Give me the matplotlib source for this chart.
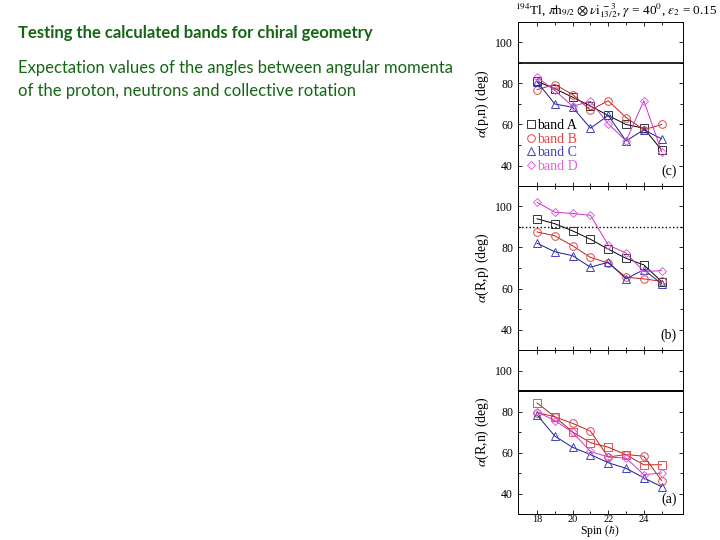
import matplotlib
matplotlib.use('Agg')
import matplotlib.pyplot as plt
from matplotlib.lines import Line2D
from matplotlib.ticker import MultipleLocator, FixedLocator

# Dữ liệu
spin = [18, 19, 20, 21, 22, 23, 24, 25]
spin_ticks = [18, 20, 22, 24]
band_names = ['band A', 'band B', 'band C', 'band D']

# (c) alpha(p,n)
c_A = [81, 77.5, 73.3, 69, 64.4, 60, 58.2, 47.5]
c_B = [77, 79.5, 74.6, 67, 71.6, 63.4, 57.4, 60]
c_C = [80.8, 70, 68.4, 58.2, 64.4, 52, 57.4, 53]
c_D = [83, 76.6, 68.9, 71.3, 60.3, 52, 71.6, 46.7]

# (b) alpha(R,p)
b_A = [94, 91.6, 88.1, 84, 79.2, 74.7, 71.5, 63.4]
b_B = [87.6, 85.7, 80.8, 75.2, 72.4, 65.5, 64.7, 63.5]
b_C = [82.1, 77.9, 76, 70.4, 72.8, 64.7, 69.2, 62.3]
b_D = [102.1, 97.2, 96.6, 95.7, 81.2, 77.3, 68.3, 68.7]

# (a) alpha(R,n)
a_A = [84.2, 77.4, 70, 64.8, 62.6, 58.9, 54, 54]
a_B = [79.5, 77.4, 74.2, 70.4, 57.8, 59, 58.2, 46.3]
a_C = [78.3, 68, 62.5, 59, 55, 52.3, 47.6, 43.3]
a_D = [79.8, 75.6, 69.8, 60.5, 57.8, 57.3, 49.2, 50]

title_text = 'Testing the calculated bands for chiral geometry'
body_lines = ['Expectation values of the angles between angular momenta',
              'of the proton, neutrons and collective rotation']

plt.rcParams['mathtext.fontset'] = 'stix'
serif = ['Liberation Serif', 'DejaVu Serif']
green = '#146614'

fig = plt.figure(figsize=(7.2, 5.4), dpi=100)

# Chữ trên slide
fig.text(18 / 720, 1 - 33 / 540, title_text, fontsize=12, fontweight='bold',
         color=green, family='Lato', va='center', ha='left')
fig.text(18 / 720, 1 - 68 / 540, body_lines[0], fontsize=12,
         color=green, family='Lato', va='center', ha='left')
fig.text(18 / 720, 1 - 91 / 540, body_lines[1], fontsize=12,
         color=green, family='Lato', va='center', ha='left')

# Kiểu vẽ cho từng band: (marker, màu đường, màu marker)
styles_bc = [('s', '#000000', '#333333'),
             ('o', '#c02020', '#e04848'),
             ('^', '#1a1a90', '#4040c0'),
             ('D', '#d030d0', '#e060e0')]
styles_a = [('s', '#b02020', '#e85050'),
            ('o', '#c02020', '#e04848'),
            ('^', '#1a1a90', '#4040c0'),
            ('D', '#d030d0', '#e060e0')]

ph = 164 / 540
panels = [
    ([c_A, c_B, c_C, c_D], r'$\alpha$(p,n) (deg)', '(c)', 1 - 186 / 540, styles_bc, '-', 1.2),
    ([b_A, b_B, b_C, b_D], r'$\alpha$(R,p) (deg)', '(b)', 1 - 350 / 540, styles_bc, ':', 1.0),
    ([a_A, a_B, a_C, a_D], r'$\alpha$(R,n) (deg)', '(a)', 1 - 514 / 540, styles_a, '-', 1.4),
]

axes = []
for series, ylab, tag, bottom, styles, ls90, lw90 in panels:
    ax = fig.add_axes([518 / 720, bottom, 165 / 720, ph])
    ax.axhline(90, color='black', ls=ls90, lw=lw90, zorder=1)
    for vals, (mk, lc, mc) in zip(series, styles):
        ms = 4.5 if mk == 'D' else 5.5
        ax.plot(spin, vals, color=lc, lw=0.7, marker=mk, ms=ms,
                mfc='none', mec=mc, mew=0.7, zorder=2)
    ax.set_xlim(16.93, 26.2)
    ax.set_ylim(30, 110)
    ax.xaxis.set_major_locator(FixedLocator(spin_ticks))
    ax.xaxis.set_minor_locator(FixedLocator(spin))
    ax.yaxis.set_major_locator(MultipleLocator(20))
    ax.yaxis.set_minor_locator(MultipleLocator(10))
    ax.tick_params(which='both', direction='in', top=True, right=True,
                   labelsize=8.5, length=3, width=0.6)
    ax.tick_params(which='minor', length=2)
    for lab in ax.get_yticklabels():
        lab.set_family(serif)
    ax.set_ylabel(ylab, fontsize=10, family=serif, labelpad=3)
    ax.text(0.96, 0.05, tag, transform=ax.transAxes, fontsize=10,
            family=serif, ha='right', va='bottom')
    for s in ax.spines.values():
        s.set_linewidth(0.7)
    axes.append(ax)

for ax in axes[:2]:
    ax.tick_params(labelbottom=False)
axes[2].tick_params(axis='x', pad=1.0, labelsize=7.5)
for lab in axes[2].get_xticklabels():
    lab.set_family(serif)
fig.text(600 / 720, 1 / 540, r'Spin ($\hbar$)', fontsize=8.5,
         family=serif, ha='center', va='bottom')

# Chú thích ở panel (c)
handles = [Line2D([], [], ls='none', marker=mk, ms=(4.5 if mk == 'D' else 5.5),
                  mfc='none', mec=mc, mew=0.7)
           for mk, lc, mc in styles_bc]
leg = axes[0].legend(handles, band_names, loc='lower left',
                     bbox_to_anchor=(0.0, 0.02), frameon=False,
                     handlelength=0.5, handletextpad=0.15, labelspacing=0.05,
                     borderaxespad=0.3, prop={'family': serif, 'size': 10})
for txt, (mk, lc, mc) in zip(leg.get_texts(), styles_bc):
    txt.set_color(mc if mk != 's' else '#000000')

fig.text(1 - 2 / 720, 1 - 11 / 540,
         r'$^{194}$Tl, $\pi \mathrm{h}_{9/2}\otimes\nu \mathrm{i}_{13/2}^{\ -3}$, $\gamma$ = 40$^0$, $\varepsilon_2$ = 0.15',
         fontsize=9.5, family=serif, ha='right', va='center')

fig.savefig('out.png', dpi=100)
